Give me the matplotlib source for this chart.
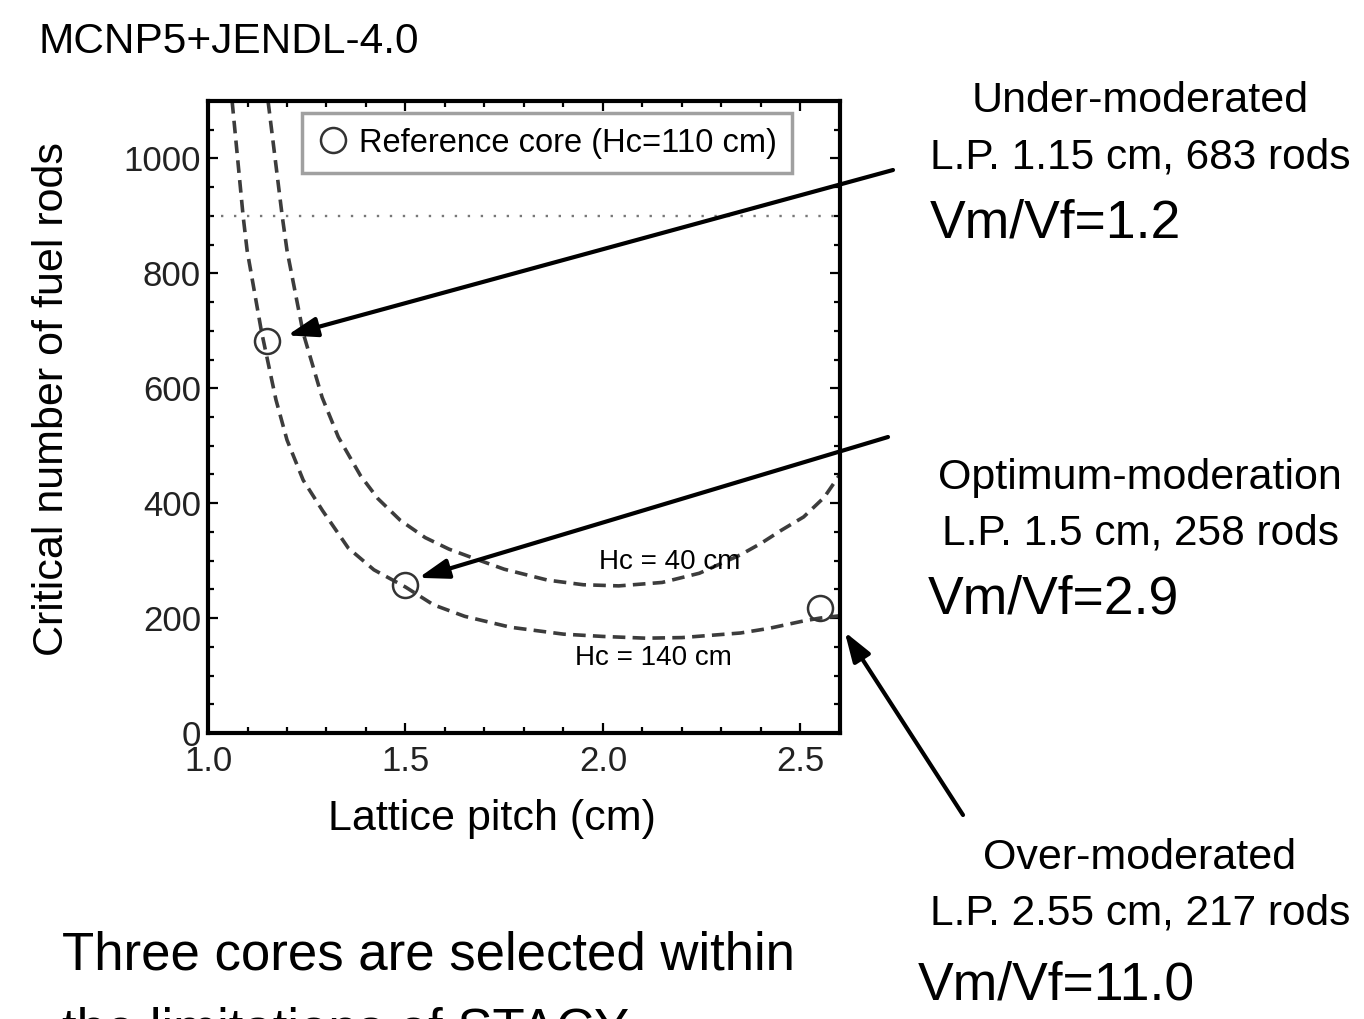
import matplotlib
matplotlib.use("Agg")
import matplotlib.pyplot as plt
from matplotlib.ticker import MultipleLocator

plt.rcParams['font.family'] = ['Liberation Sans', 'DejaVu Sans']

# Critical number of rods vs lattice pitch
pitch_140 = [1.061, 1.089, 1.099, 1.135, 1.172, 1.20, 1.241, 1.29, 1.355, 1.42, 1.50, 1.571, 1.65,
             1.766, 1.90, 2.0, 2.107, 2.20, 2.348, 2.42, 2.508, 2.55, 2.60]
rods_140 = [1100, 899, 840, 700, 580, 510, 440, 387, 322, 284, 254, 223, 203,
            184, 172, 168, 165, 166, 174, 182, 195, 200, 204]

pitch_40 = [1.152, 1.188, 1.200, 1.241, 1.289, 1.33, 1.386, 1.43, 1.487, 1.55, 1.61, 1.673, 1.75,
            1.860, 1.95, 2.040, 2.15, 2.244, 2.348, 2.40, 2.452, 2.508, 2.56, 2.60]
rods_40 = [1100, 899, 840, 696, 584, 515, 448, 408, 370, 340, 320, 304, 285,
           266, 258, 256, 262, 278, 310, 330, 353, 376, 410, 450]

# Selected reference cores (Hc=110 cm)
ref_pitch = [1.15, 1.5, 2.55]
ref_rods = [683, 258, 217]

rod_limit = 900

core_names = ["Under-moderated", "Optimum-moderation", "Over-moderated"]
core_info = ["L.P. 1.15 cm, 683 rods", "L.P. 1.5 cm, 258 rods", "L.P. 2.55 cm, 217 rods"]
vm_vf = ["1.2", "2.9", "11.0"]

fig = plt.figure(figsize=(13.64, 10.19), dpi=100)
ax = fig.add_axes([0.1525, 0.2807, 0.4633, 0.6202])

dash_color = "#3c3c3c"
ax.plot(pitch_140, rods_140, color=dash_color, lw=2.6, dashes=(3.5, 2.0))
ax.plot(pitch_40, rods_40, color=dash_color, lw=2.6, dashes=(3.5, 2.0))
ax.axhline(rod_limit, color="#777777", lw=1.7, linestyle=(0, (1, 4.5)))

ax.plot(ref_pitch, ref_rods, linestyle="none", marker="o", markersize=18,
        markerfacecolor="none", markeredgecolor="#333333", markeredgewidth=1.8,
        label="Reference core (Hc=110 cm)")

ax.text(2.168, 297, "Hc = 40 cm", fontsize=20, ha="center", va="center")
ax.text(2.127, 130, "Hc = 140 cm", fontsize=20, ha="center", va="center")

ax.set_xlim(1.0, 2.6)
ax.set_ylim(0, 1100)
ax.xaxis.set_major_locator(MultipleLocator(0.5))
ax.xaxis.set_minor_locator(MultipleLocator(0.1))
ax.yaxis.set_major_locator(MultipleLocator(200))
ax.yaxis.set_minor_locator(MultipleLocator(50))
ax.xaxis.set_major_formatter(plt.FormatStrFormatter("%.1f"))
ax.tick_params(which="both", direction="in", top=True, right=True, width=1.6, colors="black")
ax.tick_params(which="major", length=7)
ax.tick_params(which="minor", length=4)
ax.tick_params(axis="x", labelsize=25, pad=9, labelcolor="#222222")
ax.tick_params(axis="y", labelsize=25, pad=5, labelcolor="#222222")
for sp in ax.spines.values():
    sp.set_linewidth(3)

ax.set_xlabel("Lattice pitch (cm)", fontsize=31)
ax.xaxis.set_label_coords(0.449, -0.105)
ax.set_ylabel("Critical number of fuel rods", fontsize=31)
ax.yaxis.set_label_coords(-0.216, 0.528)

leg = ax.legend(loc="upper left", bbox_to_anchor=(0.149, 0.981), borderaxespad=0,
                fontsize=23.5, fancybox=False, handletextpad=0.3, handlelength=1.0,
                borderpad=0.45, markerscale=1.0)
leg.get_frame().set_edgecolor("#888888")
leg.get_frame().set_linewidth(2.5)

fig.text(38 / 1364, 1 - 42 / 1019, "MCNP5+JENDL-4.0", fontsize=30.5, ha="left", va="center")

# Annotations on the right
name_y = [101, 478, 858]
info_y = [157, 533, 913]
ratio_y = [224, 600, 985]
ratio_x = [930, 928, 918]
for i in range(3):
    fig.text(1140 / 1364, 1 - name_y[i] / 1019, core_names[i], fontsize=31, ha="center", va="center")
    fig.text(1140 / 1364, 1 - info_y[i] / 1019, core_info[i], fontsize=30.5, ha="center", va="center")
    fig.text(ratio_x[i] / 1364, 1 - ratio_y[i] / 1019, "Vm/Vf=" + vm_vf[i], fontsize=38.5, ha="left", va="center")

# Arrows from the notes to the selected cores
tails = [(893 / 1364, 1 - 170 / 1019), (888 / 1364, 1 - 437 / 1019), (963 / 1364, 1 - 815 / 1019)]
tips = [(1.2005, 692), (1.533, 270), (2.612, 176)]
for tip, tail in zip(tips, tails):
    ax.annotate("", xy=tip, xycoords="data", xytext=tail, textcoords="figure fraction",
                annotation_clip=False,
                arrowprops=dict(arrowstyle="-|>,head_length=0.9,head_width=0.3", lw=3,
                                color="black", mutation_scale=20, shrinkA=0, shrinkB=0))

fig.text(62 / 1364, 1 - 955 / 1019, "Three cores are selected within", fontsize=38, ha="left", va="center")
fig.text(62 / 1364, 1 - 1031 / 1019, "the limitations of STACY", fontsize=38, ha="left", va="center")

fig.savefig("out.png", dpi=100)
